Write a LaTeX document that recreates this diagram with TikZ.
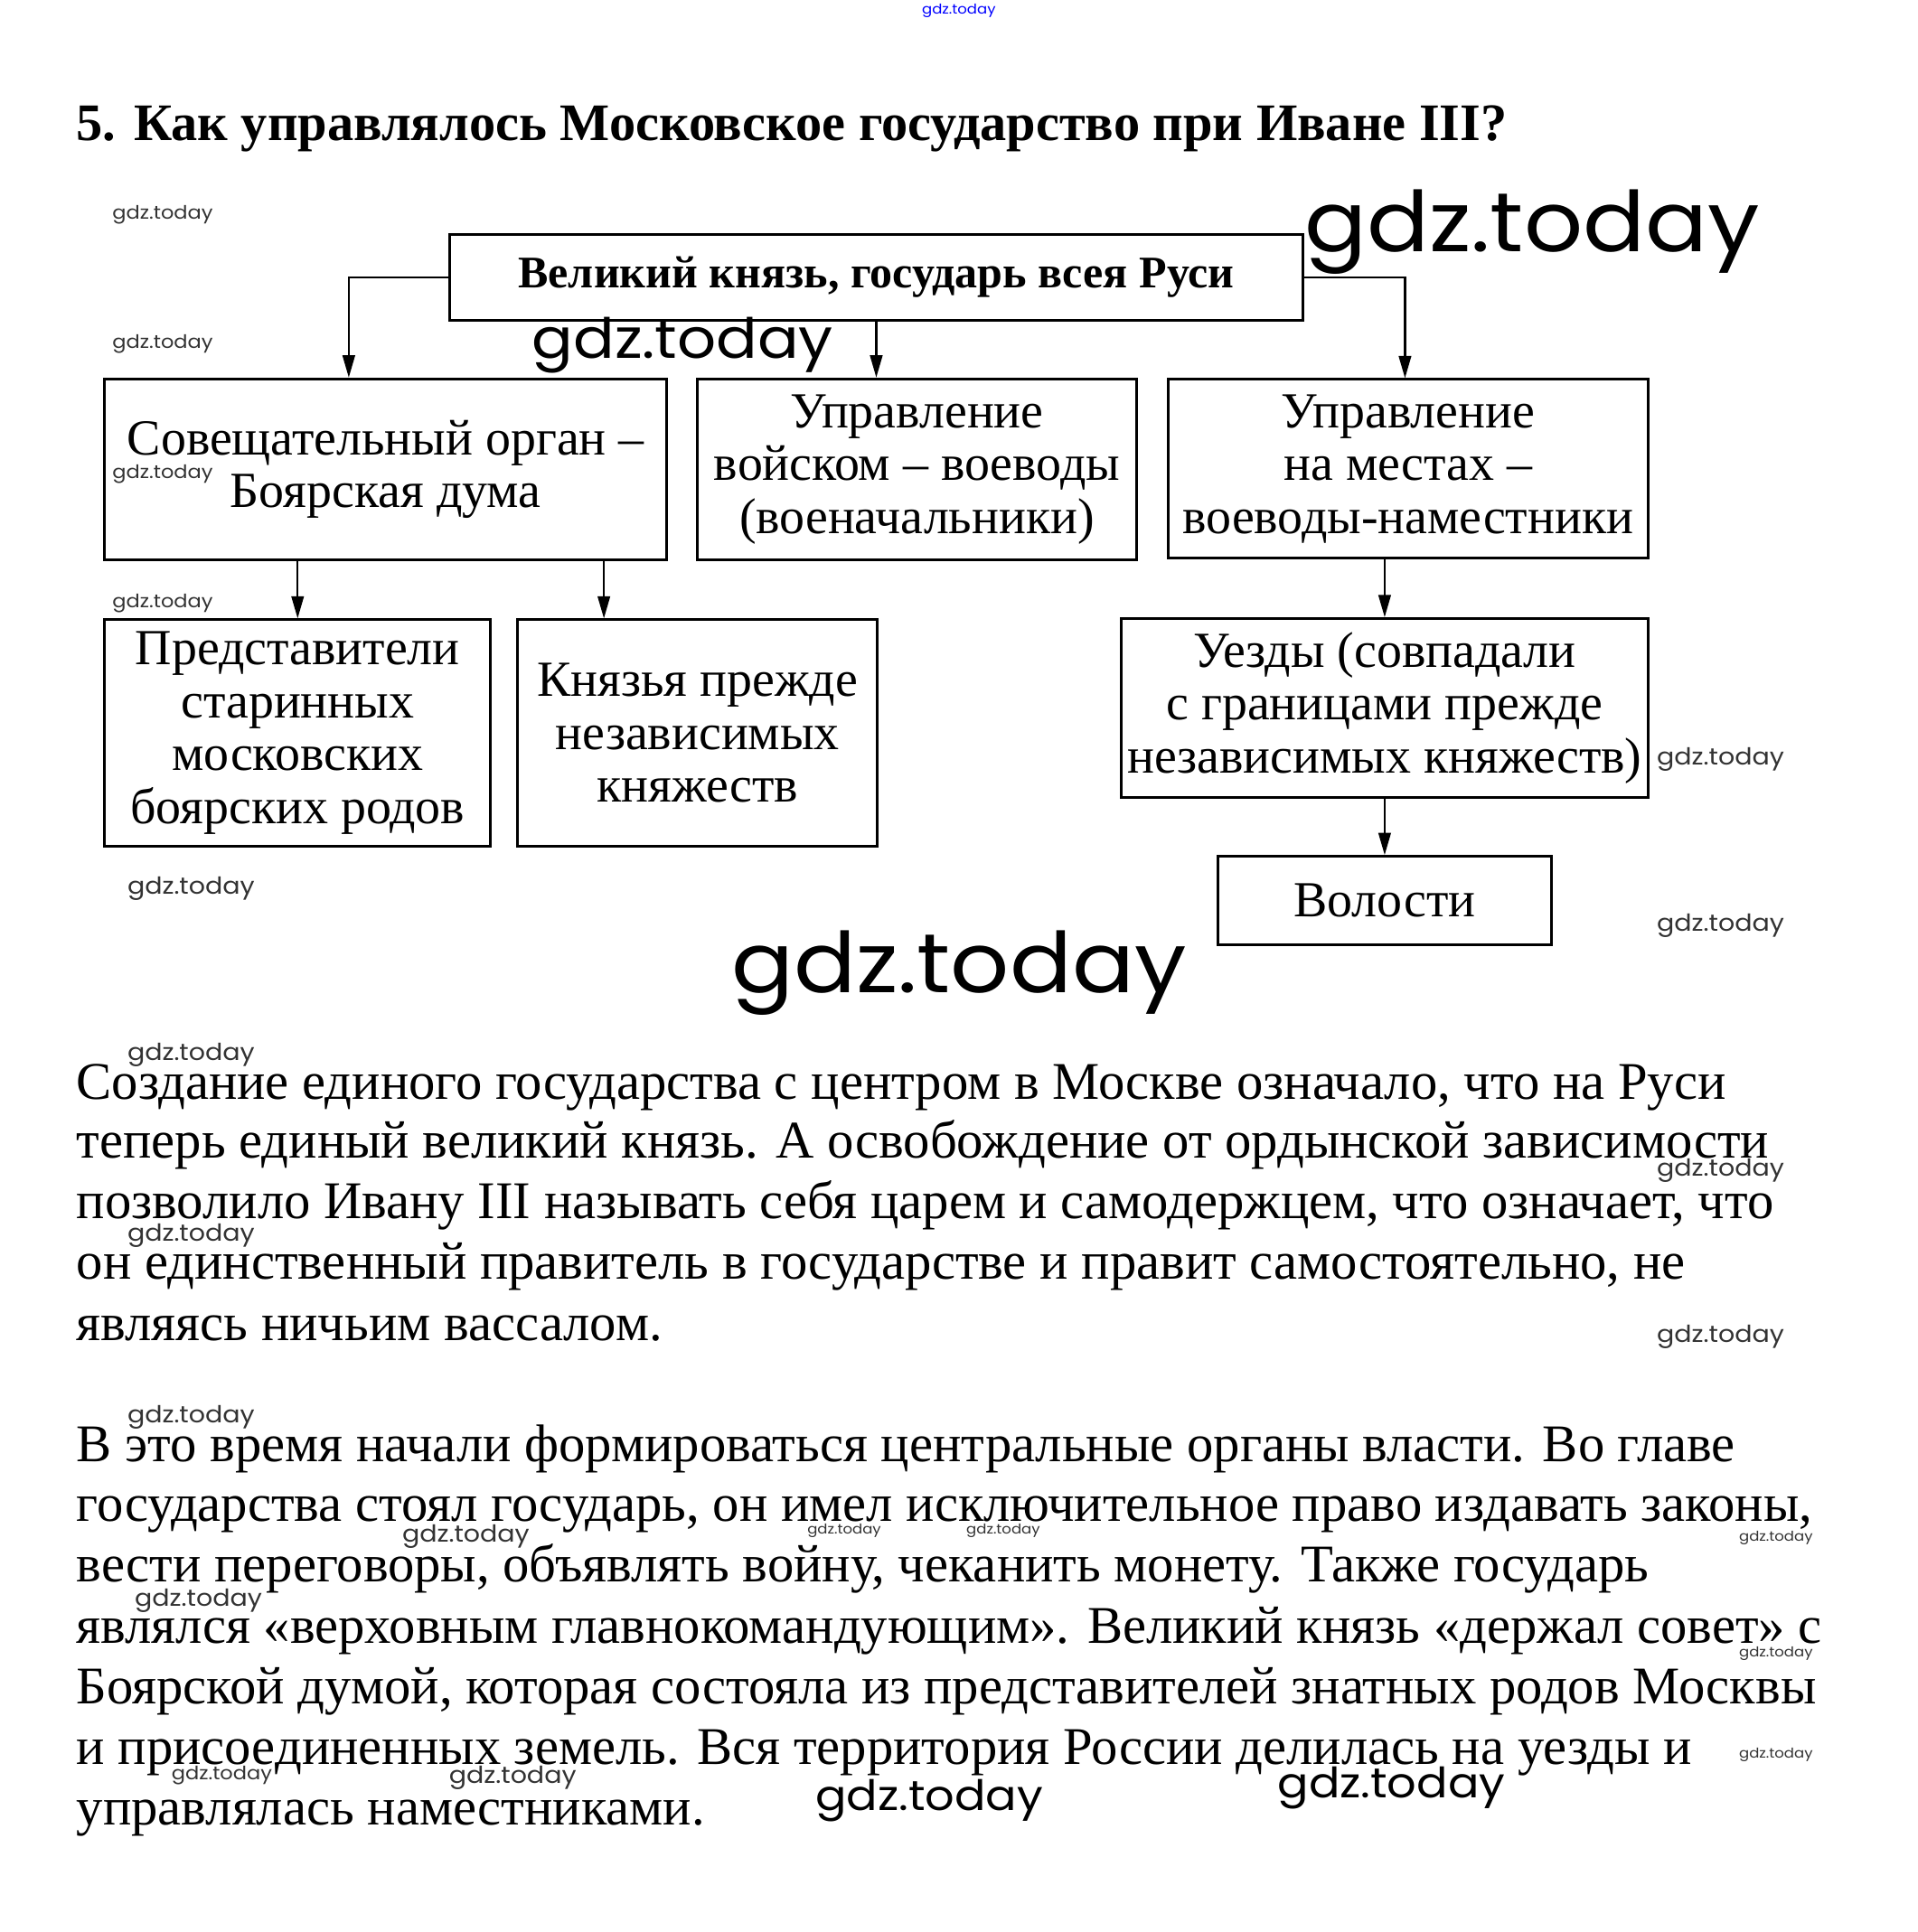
\documentclass[tikz,border=0pt]{standalone}
\usepackage{fontspec}
\setmainfont{Liberation Serif}
\newfontfamily\wmfont{Poppins}
\usetikzlibrary{arrows.meta}
\newcommand{\wmk}[4]{\node[inner sep=0pt, text=#4] (#1) at (#2) {\scalebox{1.1}[1]{\wmfont\fontsize{#3}{#3}\selectfont gdz.today}};}
\begin{document}
\begin{tikzpicture}[x=1pt,y=-1pt,
  box/.style={draw, line width=2.2pt, align=center, inner sep=0pt, font=\fontsize{41}{43}\selectfont},
  arr/.style={line width=1.6pt, -{Triangle[length=18pt,width=10pt]}},
  para/.style={anchor=base west, inner sep=0pt, font=\fontsize{43}{49}\selectfont}]
\useasboundingbox[fill=white] (0,0) rectangle (1556,1568);

% title
\node[anchor=base west, inner sep=0pt, font=\bfseries\fontsize{42.8}{48}\selectfont] (title) at (62,114) {5. Как управлялось Московское государство при Иване III?};

% boxes
\node[box, minimum width=692pt, minimum height=70pt, font=\bfseries\fontsize{36.7}{40}\selectfont] (top) at (711,225) {Великий князь, государь всея Руси};
\node[box, minimum width=456pt, minimum height=147pt] (A) at (313,381) {Совещательный орган –\\Боярская дума};
\node[box, minimum width=356pt, minimum height=147pt] (B) at (744,381) {Управление\\войском – воеводы\\(военачальники)};
\node[box, minimum width=389pt, minimum height=145pt] (C) at (1142.5,380.5) {Управление\\на местах –\\воеводы-наместники};
\node[box, minimum width=313pt, minimum height=184pt] (D) at (241.5,595) {Представители\\старинных\\московских\\боярских родов};
\node[box, minimum width=292pt, minimum height=184pt] (E) at (566,595) {Князья прежде\\независимых\\княжеств};
\node[box, minimum width=427pt, minimum height=145pt] (F) at (1123.5,574.5) {Уезды (совпадали\\с границами прежде\\независимых княжеств)};
\node[box, minimum width=271pt, minimum height=72pt] (G) at (1123.5,731) {Волости};

% connectors
\draw[arr] (top.west) -| ([xshift=-30pt]A.north);
\draw[arr] (top.south) -- (top.south |- B.north);
\draw[arr] (top.east) -| ([xshift=-2.5pt]C.north);
\draw[arr] (A.south -| D.north) -- (D.north);
\draw[arr] ([xshift=-76pt]E.north |- A.south) -- ([xshift=-76pt]E.north);
\draw[arr] (C.south -| F.north) -- (F.north);
\draw[arr] (F.south) -- (G.north);

% paragraph 1
\node[para] (p1) at (62,892) {Создание единого государства с центром в Москве означало, что на Руси};
\node[para] (p2) at (62,940) {теперь единый великий князь. А освобождение от ордынской зависимости};
\node[para] (p3) at (62,989) {позволило Ивану III называть себя царем и самодержцем, что означает, что};
\node[para] (p4) at (62,1038) {он единственный правитель в государстве и правит самостоятельно, не};
\node[para] (p5) at (62,1088) {являясь ничьим вассалом.};

% paragraph 2
\node[para] (q1) at (62,1186) {В это время начали формироваться центральные органы власти. Во главе};
\node[para] (q2) at (62,1235) {государства стоял государь, он имел исключительное право издавать законы,};
\node[para] (q3) at (62,1284) {вести переговоры, объявлять войну, чеканить монету. Также государь};
\node[para] (q4) at (62,1334) {являлся «верховным главнокомандующим». Великий князь «держал совет» с};
\node[para] (q5) at (62,1383) {Боярской думой, которая состояла из представителей знатных родов Москвы};
\node[para] (q6) at (62,1432) {и присоединенных земель. Вся территория России делилась на уезды и};
\node[para] (q7) at (62,1481) {управлялась наместниками.};

% watermarks
\wmk{w1}{778,9}{11}{blue}
\wmk{w2}{132,174}{15}{black!80}
\wmk{w3}{132,279}{15}{black!80}
\wmk{w4}{132,385}{15}{black!80}
\wmk{w5}{132,490}{15}{black!80}
\wmk{w6}{155,721}{19}{black!80}
\wmk{w7}{1243,188}{68}{black}
\wmk{w8}{554,280}{45}{black}
\wmk{w9}{778,790}{68}{black}
\wmk{w10}{1396,616}{19}{black!80}
\wmk{w11}{1396,751}{19}{black!80}
\wmk{w12}{1396,950}{19}{black!80}
\wmk{w13}{1396,1085}{19}{black!80}
\wmk{w14}{155,856}{19}{black!80}
\wmk{w15}{155,1003}{19}{black!80}
\wmk{w16}{155,1150}{19}{black!80}
\wmk{w17}{378,1247}{19}{black!80}
\wmk{w18}{161,1299}{19}{black!80}
\wmk{w19}{180,1441}{15}{black!80}
\wmk{w20}{416,1443}{19}{black!80}
\wmk{w21}{685,1242}{11}{black!80}
\wmk{w22}{814,1242}{11}{black!80}
\wmk{w23}{1441,1248}{11}{black!80}
\wmk{w24}{1441,1342}{11}{black!80}
\wmk{w25}{1441,1424}{11}{black!80}
\wmk{w26}{754,1461}{34}{black}
\wmk{w27}{1129,1451}{34}{black}
\end{tikzpicture}
\end{document}
